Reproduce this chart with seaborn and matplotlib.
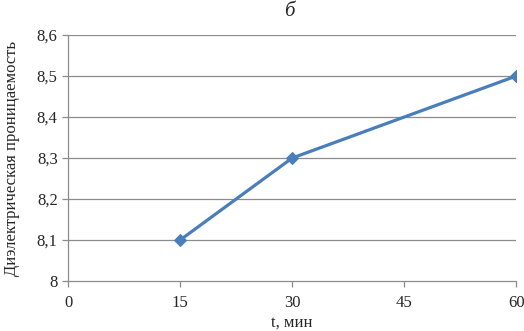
import matplotlib
matplotlib.use("Agg")
import matplotlib.pyplot as plt
import pandas as pd
import seaborn as sns
from matplotlib.ticker import FuncFormatter

# Data
t_min = [15, 30, 60]
permittivity = [8.1, 8.3, 8.5]
x_ticks = [0, 15, 30, 45, 60]
y_ticks = [8.0, 8.1, 8.2, 8.3, 8.4, 8.5, 8.6]

sns.set_style("white")
plt.rcParams["font.family"] = ["Liberation Serif", "DejaVu Serif"]

df = pd.DataFrame({"t": t_min, "eps": permittivity})

fig = plt.figure(figsize=(5.24, 3.31), dpi=100)
ax = fig.add_axes([0.130, 0.151, 0.855, 0.743])

for y in y_ticks[1:]:
    ax.axhline(y, color="#8c8c8c", linewidth=0.9, zorder=0)

sns.lineplot(data=df, x="t", y="eps", ax=ax, color="#4a7ebb", linewidth=2.3,
             marker="D", markersize=6.5, markeredgecolor="#4a7ebb")

ax.set_xlim(0, 60)
ax.set_ylim(8.0, 8.6)
ax.set_xticks(x_ticks)
ax.set_yticks(y_ticks)
ax.yaxis.set_major_formatter(FuncFormatter(
    lambda v, _: "8" if abs(v - 8) < 1e-9 else f"{v:.1f}".replace(".", ",")))

for side in ["top", "right"]:
    ax.spines[side].set_visible(False)
for side in ["left", "bottom"]:
    ax.spines[side].set_color("#8c8c8c")
    ax.spines[side].set_linewidth(0.9)

ax.tick_params(axis="both", which="major", length=4, width=0.9, color="#8c8c8c",
               labelsize=12, direction="out", bottom=True, left=True)
ax.tick_params(axis="x", pad=6)

ax.set_xlabel("t, мин", fontsize=12, labelpad=3)
ax.set_ylabel("Диэлектрическая проницаемость", fontsize=12, labelpad=12)
fig.text(0.553, 0.965, "б", fontsize=15, style="italic", ha="center", va="center")

fig.savefig("out.png", dpi=100)
plt.close(fig)
